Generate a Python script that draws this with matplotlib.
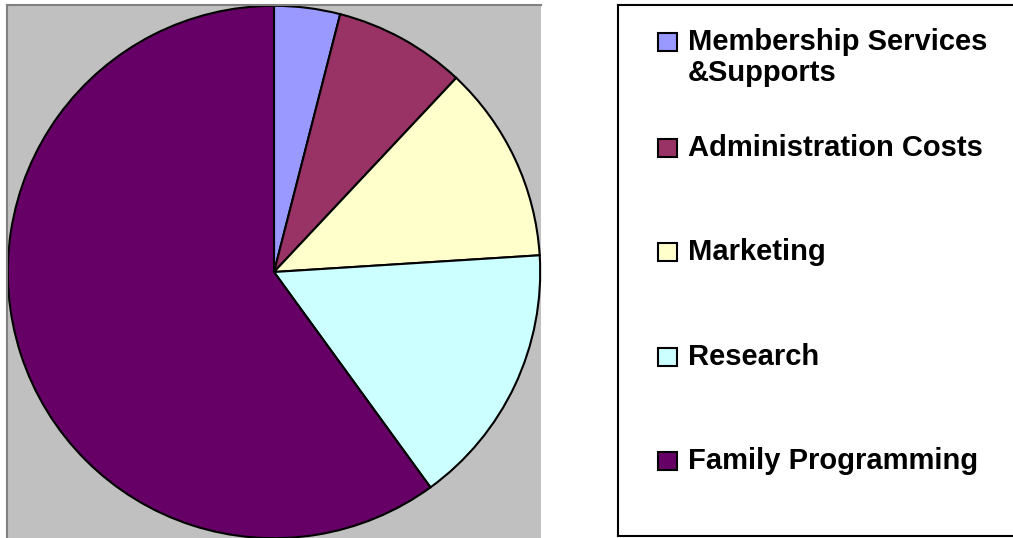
import matplotlib
matplotlib.use("Agg")
import matplotlib.pyplot as plt
from matplotlib.patches import Rectangle

# data
labels = ["Membership Services\n&Supports", "Administration Costs", "Marketing",
          "Research", "Family Programming"]
shares = [4, 8, 12, 16, 60]
colors = ["#9999FF", "#993366", "#FFFFCC", "#CCFFFF", "#660066"]

W, H = 1013, 538
fig = plt.figure(figsize=(W / 100, H / 100), dpi=100)
fig.patch.set_facecolor("white")

def px(x0, y0, x1, y1):
    # pixel box (top-left origin) -> figure fraction rect
    return [x0 / W, 1 - y1 / H, (x1 - x0) / W, (y1 - y0) / H]

# pie plot area (gray)
ax = fig.add_axes(px(7, 5, 541, 539))
wedges, _ = ax.pie(shares, colors=colors, startangle=90, counterclock=False,
                   radius=1.0, center=(0, 0),
                   wedgeprops=dict(edgecolor="black", linewidth=1.5))
ax.set_frame_on(True)
ax.set_facecolor("#C0C0C0")
ax.set_xlim(-1.003, 1.003)
ax.set_ylim(-1.003, 1.003)
ax.set_aspect("auto")
ax.set_xticks([])
ax.set_yticks([])
for side in ["left", "top"]:
    ax.spines[side].set_color("#808080")
    ax.spines[side].set_linewidth(1.5)
for side in ["right", "bottom"]:
    ax.spines[side].set_visible(False)

# legend box (right edge runs off the picture)
lax = fig.add_axes(px(618, 5, 1030, 536))
lax.set_xlim(618, 1030)
lax.set_ylim(536, 5)
lax.set_xticks([])
lax.set_yticks([])
for s in lax.spines.values():
    s.set_color("black")
    s.set_linewidth(1.5)

row_tops = [33, 139, 243, 348, 452]
for lab, col, yt in zip(labels, colors, row_tops):
    lax.add_patch(Rectangle((658, yt), 19, 18, facecolor=col,
                            edgecolor="black", linewidth=1.5))
    lax.text(688, yt - 5, lab, ha="left", va="top", fontsize=21,
             fontweight="bold", family="Liberation Sans", linespacing=1.12)

fig.savefig("out.png", dpi=100)
